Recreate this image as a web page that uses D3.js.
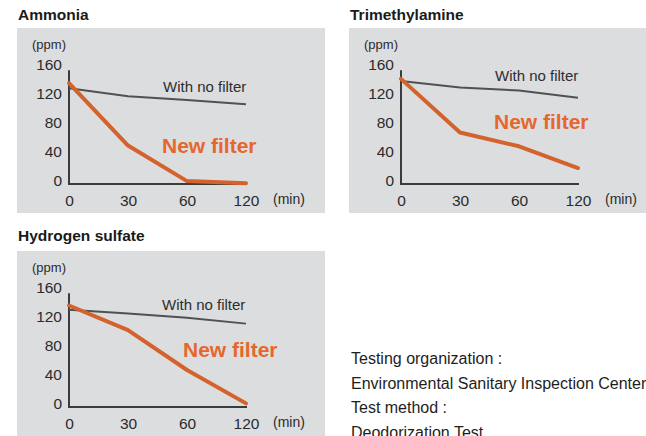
<!DOCTYPE html>
<html>
<head>
<meta charset="utf-8">
<script src="https://cdn.jsdelivr.net/npm/d3@7/dist/d3.min.js"></script>
<style>
  html, body { margin: 0; padding: 0; background: #ffffff; overflow: hidden; }
  svg { display: block; font-family: "Liberation Sans", Arial, sans-serif; }
</style>
</head>
<body>
<svg id="chart" width="646" height="436"></svg>
<script>
// Sampling times (minutes) and concentration readings (ppm)
const times = ["0", "30", "60", "120"];
const yTicks = [0, 40, 80, 120, 160];
const gasNames = ["Ammonia", "Trimethylamine", "Hydrogen sulfate"];

const noFilterAmmonia = [132, 121, 116, 110];
const newFilterAmmonia = [139, 53, 4, 1];

const noFilterTrimethylamine = [142, 133, 129, 119];
const newFilterTrimethylamine = [145, 71, 52, 22];

const noFilterHydrogenSulfate = [134, 129, 123, 115];
const newFilterHydrogenSulfate = [140, 106, 51, 5];

const seriesLabels = ["With no filter", "New filter"];
const noteLines = [
  "Testing organization :",
  "Environmental Sanitary Inspection Center",
  "Test method :",
  "Deodorization Test"
];

// Panel placement and annotation offsets (relative to each panel's box)
const layout = [
  { x: 17,  y: 28,  w: 308, titleDy: -8,  noLbl: [146, 64], newLbl: [145, 125] },
  { x: 349, y: 28,  w: 310, titleDy: -8,  noLbl: [146, 53], newLbl: [145, 101] },
  { x: 17,  y: 251, w: 308, titleDy: -10, noLbl: [145, 59], newLbl: [166, 106] }
];
const panelData = [
  [noFilterAmmonia, newFilterAmmonia],
  [noFilterTrimethylamine, newFilterTrimethylamine],
  [noFilterHydrogenSulfate, newFilterHydrogenSulfate]
];

const COLORS = {
  panel: "#dcdddf",
  axis: "#3b3b3d",
  noFilter: "#505153",
  newFilter: "#d4622c",
  newText: "#e5672e",
  text: "#2b2b2b"
};

const svg = d3.select("#chart");

gasNames.forEach((name, i) => {
  const L = layout[i];
  const [noVals, newVals] = panelData[i];

  svg.append("text")
    .attr("x", L.x + 1)
    .attr("y", L.y + L.titleDy)
    .attr("font-size", 15.5)
    .attr("font-weight", "bold")
    .attr("fill", "#1a1a1a")
    .text(name);

  const g = svg.append("g").attr("transform", `translate(${L.x},${L.y})`);

  g.append("rect")
    .attr("width", L.w)
    .attr("height", 185)
    .attr("fill", COLORS.panel);

  const x = d3.scalePoint().domain(times).range([52, 229]);
  const y = d3.scaleLinear().domain([0, 160]).range([156, 40]);

  // y tick labels
  const yAxis = g.append("g")
    .attr("transform", `translate(${x(times[0])},0)`)
    .call(d3.axisLeft(y).tickValues(yTicks).tickSize(0).tickPadding(7));
  yAxis.select(".domain").remove();
  yAxis.selectAll("text")
    .attr("font-size", 15.5)
    .attr("font-family", "Liberation Sans, Arial, sans-serif")
    .attr("fill", COLORS.text)
    .attr("dy", "0.1em");

  // x tick labels
  const xAxis = g.append("g")
    .attr("transform", `translate(0,${y(0)})`)
    .call(d3.axisBottom(x).tickSize(0).tickPadding(7));
  xAxis.select(".domain").remove();
  xAxis.selectAll("text")
    .attr("font-size", 15.5)
    .attr("font-family", "Liberation Sans, Arial, sans-serif")
    .attr("fill", COLORS.text)
    .attr("dy", "0.95em");

  // axis lines
  g.append("line")
    .attr("x1", x(times[0])).attr("x2", x(times[0]))
    .attr("y1", y(0) + 1).attr("y2", y(157))
    .attr("stroke", COLORS.axis).attr("stroke-width", 2);
  g.append("line")
    .attr("x1", x(times[0]) - 1).attr("x2", x(times[times.length - 1]) + 1)
    .attr("y1", y(0)).attr("y2", y(0))
    .attr("stroke", COLORS.axis).attr("stroke-width", 2);

  // unit labels
  g.append("text")
    .attr("x", x(times[0]) - 20)
    .attr("y", 20.5)
    .attr("text-anchor", "middle")
    .attr("font-size", 13)
    .attr("fill", COLORS.text)
    .text("(ppm)");
  g.append("text")
    .attr("x", x(times[times.length - 1]) + 27)
    .attr("y", y(0) + 20)
    .attr("font-size", 14)
    .attr("fill", COLORS.text)
    .text("(min)");

  const line = d3.line()
    .x((d, j) => x(times[j]))
    .y(d => y(d));

  g.append("path")
    .datum(noVals)
    .attr("d", line)
    .attr("fill", "none")
    .attr("stroke", COLORS.noFilter)
    .attr("stroke-width", 2);

  g.append("path")
    .datum(newVals)
    .attr("d", line)
    .attr("fill", "none")
    .attr("stroke", COLORS.newFilter)
    .attr("stroke-width", 4)
    .attr("stroke-linejoin", "round")
    .attr("stroke-linecap", "round");

  g.append("text")
    .attr("x", L.noLbl[0]).attr("y", L.noLbl[1])
    .attr("font-size", 15)
    .attr("fill", "#2e2e2e")
    .text(seriesLabels[0]);

  g.append("text")
    .attr("x", L.newLbl[0]).attr("y", L.newLbl[1])
    .attr("font-size", 21)
    .attr("font-weight", "bold")
    .attr("fill", COLORS.newText)
    .text(seriesLabels[1]);
});

// test information note
svg.append("g")
  .selectAll("text")
  .data(noteLines)
  .join("text")
  .attr("x", 351)
  .attr("y", (d, i) => 364 + i * 24.5)
  .attr("font-size", 16)
  .attr("fill", "#1e1e1e")
  .text(d => d);
</script>
</body>
</html>
